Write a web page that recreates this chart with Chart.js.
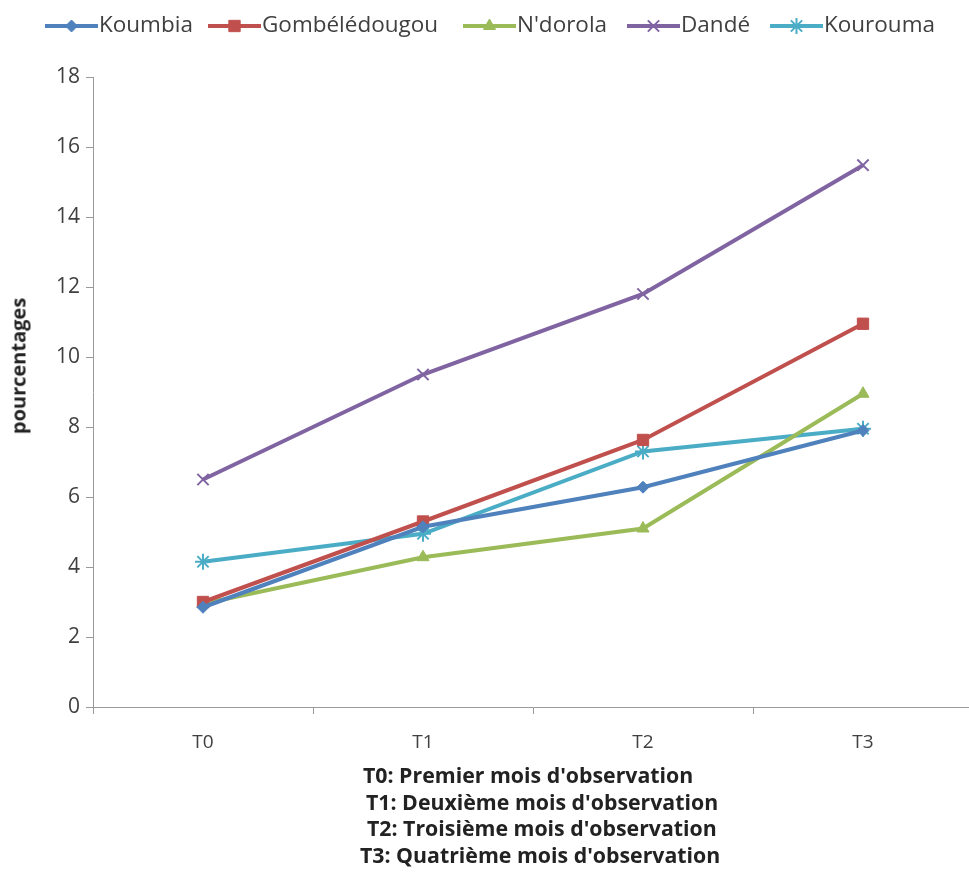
<!DOCTYPE html>
<html>
<head>
<meta charset="utf-8">
<script src="https://cdn.jsdelivr.net/npm/chart.js@4/dist/chart.umd.min.js"></script>
<style>
  html, body { margin: 0; padding: 0; background: #fff; overflow: hidden; }
  #wrap { position: relative; width: 969px; height: 891px; overflow: hidden; }
  #c { position: absolute; left: 0; top: 0; }
  #notes { position: absolute; left: 362px; width: 460px; top: 762px; text-align: left;
           font-family: "Open Sans", "Liberation Sans", sans-serif; font-weight: bold; font-size: 21.3px;
           color: #222; line-height: 26.7px; white-space: nowrap; }
  #ytitle { position: absolute; left: 18px; top: 366px; transform: translate(-50%, -50%) rotate(-90deg);
            font-family: "Open Sans", "Liberation Sans", sans-serif; font-weight: bold; font-size: 20px;
            color: #222; white-space: nowrap; }
</style>
</head>
<body>
<div id="wrap">
  <canvas id="c" width="1000" height="891"></canvas>
  <div id="ytitle"></div>
  <div id="notes"></div>
</div>
<script>
const categories = ["T0", "T1", "T2", "T3"];
const seriesNames = ["Koumbia", "Gombélédougou", "N'dorola", "Dandé", "Kourouma"];
const koumbia = [2.85, 5.15, 6.28, 7.9];
const gombeledougou = [3.0, 5.3, 7.63, 10.95];
const ndorola = [2.95, 4.28, 5.1, 8.95];
const dande = [6.5, 9.5, 11.8, 15.48];
const kourouma = [4.15, 4.95, 7.3, 7.95];
const yTicks = [0, 2, 4, 6, 8, 10, 12, 14, 16, 18];
const yTitle = "pourcentages";
const notes = [
  "T0: Premier mois d'observation",
  "T1: Deuxième mois d'observation",
  "T2: Troisième mois d'observation",
  "T3: Quatrième mois d'observation"
];

document.getElementById('ytitle').textContent = yTitle;
const noteIndent = [1, 4, 5, -2];
document.getElementById('notes').innerHTML = notes.map((n, i) => '<div style="margin-left:' + noteIndent[i] + 'px">' + n + '</div>').join('');

const colors = ["#4F81BD", "#C0504D", "#9BBB59", "#8064A2", "#4BACC6"];
const styles = ["rectRot", "rect", "triangle", "crossRot", "star"];
const radii = [6, 8, 7, 8, 8];
const values = [koumbia, gombeledougou, ndorola, dande, kourouma];
const FONT = '"Open Sans", "Liberation Sans", sans-serif';

const datasets = seriesNames.map((name, i) => ({
  label: name,
  data: values[i],
  borderColor: colors[i],
  backgroundColor: colors[i],
  borderWidth: 4,
  pointStyle: styles[i],
  pointRadius: radii[i],
  pointBorderWidth: (styles[i] === 'crossRot' || styles[i] === 'star') ? 2 : 1,
  pointBorderColor: colors[i],
  pointBackgroundColor: colors[i],
  tension: 0,
  fill: false
}));

const legendStarts = [45, 208, 463, 627, 770];
const legendPlugin = {
  id: 'customLegend',
  afterDraw(chart) {
    const ctx = chart.ctx;
    ctx.save();
    ctx.font = '22.5px ' + FONT;
    const lineLen = 53, gapText = 1;
    const y = 26;
    chart.data.datasets.forEach((d, i) => {
      const x = legendStarts[i];
      ctx.strokeStyle = d.borderColor;
      ctx.lineWidth = 4;
      ctx.beginPath();
      ctx.moveTo(x, y);
      ctx.lineTo(x + lineLen, y);
      ctx.stroke();
      ctx.fillStyle = d.borderColor;
      ctx.strokeStyle = d.borderColor;
      ctx.lineWidth = d.pointBorderWidth;
      Chart.helpers.drawPoint(ctx, { pointStyle: d.pointStyle, radius: d.pointRadius, borderWidth: d.pointBorderWidth, rotation: 0 }, x + lineLen / 2, y);
      ctx.fillStyle = '#404040';
      ctx.textBaseline = 'middle';
      ctx.textAlign = 'left';
      ctx.fillText(d.label, x + lineLen + gapText, y);
    });
    ctx.restore();
  }
};

new Chart(document.getElementById('c'), {
  type: 'line',
  data: { labels: categories, datasets: datasets },
  plugins: [legendPlugin],
  options: {
    responsive: false,
    animation: false,
    layout: { padding: { top: 77, right: 27, bottom: 0, left: 0 } },
    plugins: { legend: { display: false }, tooltip: { enabled: false } },
    scales: {
      x: {
        offset: true,
        grid: { offset: true, drawOnChartArea: false, tickLength: 7, color: '#9a9a9a' },
        border: { color: '#9a9a9a', width: 1 },
        ticks: { font: { family: FONT, size: 19 }, color: '#404040', padding: 17 },
        afterFit(s) { s.height = 184; }
      },
      y: {
        min: 0, max: 18,
        afterBuildTicks(s) { s.ticks = yTicks.map(v => ({ value: v })); },
        grid: { drawOnChartArea: false, tickLength: 7, color: '#9a9a9a' },
        border: { color: '#9a9a9a', width: 1 },
        ticks: { font: { family: FONT, size: 21 }, color: '#404040', padding: 6 },
        afterFit(s) { s.width = 93; }
      }
    }
  }
});
</script>
</body>
</html>
